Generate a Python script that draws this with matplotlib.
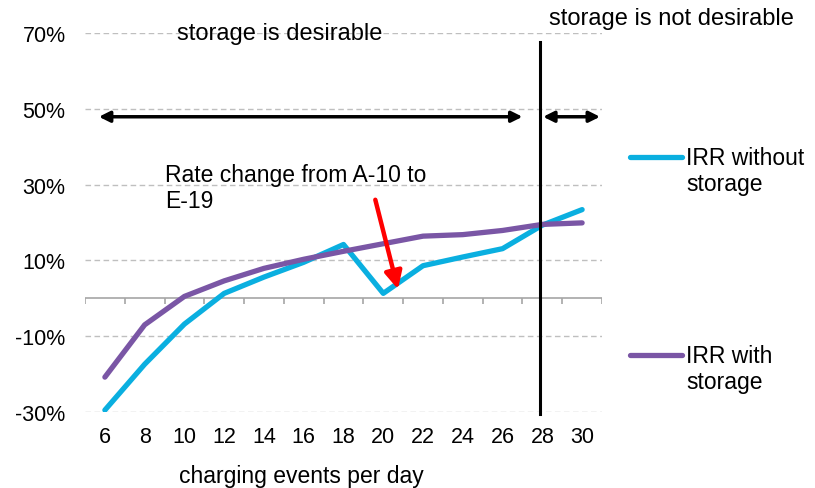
import numpy as np
import matplotlib.pyplot as plt
from matplotlib.lines import Line2D

plt.rcParams['font.family'] = ['Liberation Sans', 'DejaVu Sans']

# datos
events = [6, 8, 10, 12, 14, 16, 18, 20, 22, 24, 26, 28, 30]
irr_without = [-29.5, -17.4, -6.8, 1.3, 5.6, 9.5, 14.2, 1.3, 8.6, 10.9, 13.1, 19.3, 23.4]
irr_with = [-20.8, -7.0, 0.5, 4.6, 7.9, 10.3, 12.4, 14.4, 16.4, 16.8, 17.9, 19.5, 19.9]
yticks = [-30, -10, 10, 30, 50, 70]

cyan = '#0AAFE0'
purple = '#7A56A5'

fig = plt.figure(figsize=(8.15, 4.89), dpi=100)
ax = fig.add_axes([85/815, 1-413/489, 517/815, 379/489])

xpos = np.arange(len(events))
ax.plot(xpos, irr_without, color=cyan, lw=3.8, solid_capstyle='round')
ax.plot(xpos, irr_with, color=purple, lw=3.8, solid_capstyle='round')

ax.set_xlim(-0.5, len(events) - 0.5)
ax.set_ylim(-30, 70)

# rejilla
for y in yticks:
    ax.axhline(y, color='#BFBFBF', lw=1, ls=(0, (4, 2.5)), zorder=0)
ax.axhline(0, color='#A6A6A6', lw=1.2, zorder=1)
bounds = np.arange(-0.5, len(events))
ax.vlines(bounds, -1.6, 0, color='#A6A6A6', lw=1.2)

for s in ax.spines.values():
    s.set_visible(False)
ax.set_xticks(xpos)
ax.set_xticklabels([str(e) for e in events], fontsize=15.5)
ax.set_yticks(yticks)
ax.set_yticklabels([f'{y}%' for y in yticks], fontsize=15.5)
ax.tick_params(length=0)
ax.tick_params(axis='x', pad=10)
ax.tick_params(axis='y', pad=14)

# linea vertical y flechas
ax.plot([10.95, 10.95], [-30.5, 67.5], color='black', lw=2.2, clip_on=False)
ax.annotate('', xy=(-0.15, 47.9), xytext=(10.5, 47.9),
            arrowprops=dict(arrowstyle='<|-|>', color='black', lw=2.5,
                            mutation_scale=16, shrinkA=0, shrinkB=0))
ax.annotate('', xy=(11.02, 47.9), xytext=(12.45, 47.9),
            arrowprops=dict(arrowstyle='<|-|>', color='black', lw=2.5,
                            mutation_scale=16, shrinkA=0, shrinkB=0))
ax.annotate('', xy=(7.37, 2.4), xytext=(6.8, 26),
            arrowprops=dict(arrowstyle='-|>', color='red', lw=3.2,
                            mutation_scale=26, shrinkA=0, shrinkB=0))

fig.text(280/815, 1-34/489, 'storage is desirable', fontsize=17,
         ha='center', va='center')
fig.text(671/815, 1-19/489, 'storage is not desirable', fontsize=17,
         ha='center', va='center')
fig.text(165/815, 1-164/489, 'Rate change from A-10 to\nE-19', fontsize=16.5,
         ha='left', va='top', linespacing=1.15)
fig.text(301/815, 1-477/489, 'charging events per day', fontsize=16.5,
         ha='center', va='center')

# leyenda
for yl, col, lab in [(158, cyan, 'IRR without\nstorage'),
                     (356, purple, 'IRR with\nstorage')]:
    fig.add_artist(Line2D([630/815, 682/815], [1-yl/489, 1-yl/489],
                          color=col, lw=3.8, solid_capstyle='round'))
    fig.text(686/815, 1-(yl-11)/489, lab, fontsize=16.5, ha='left', va='top',
             linespacing=1.15)

fig.savefig('out.png', dpi=100)
